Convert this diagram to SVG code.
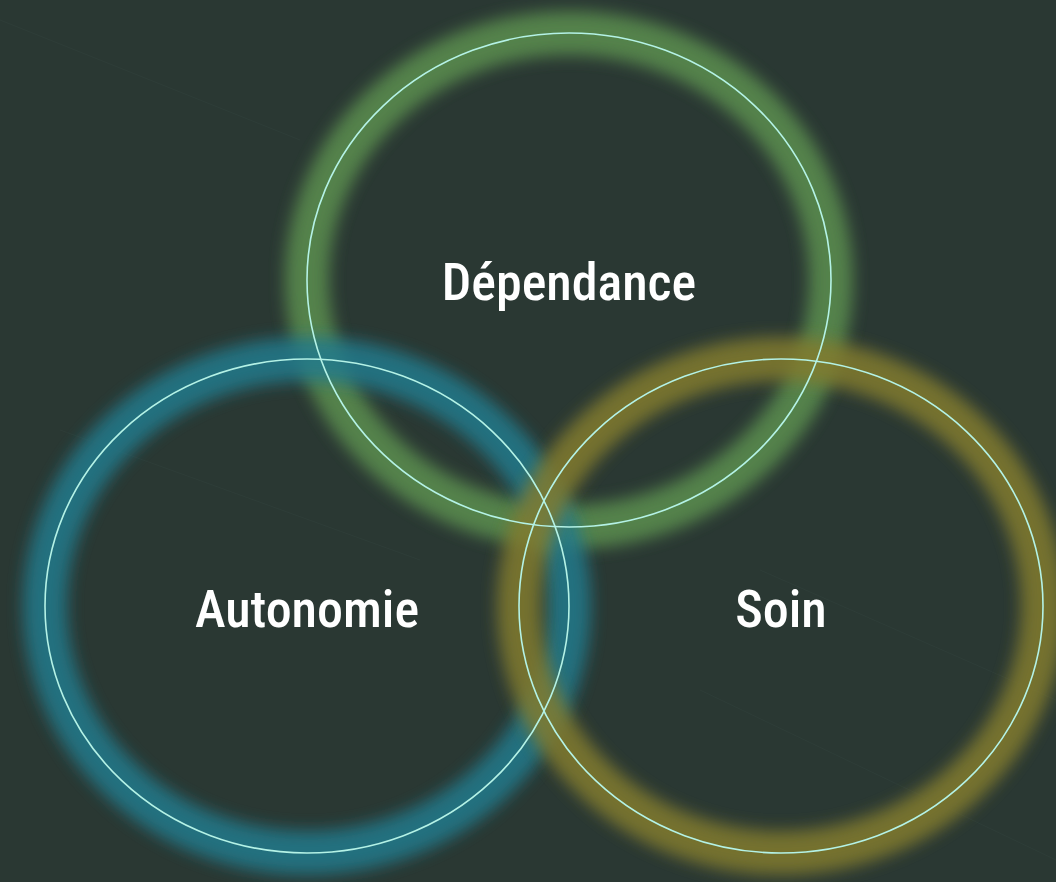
<svg xmlns="http://www.w3.org/2000/svg" width="1056" height="882" viewBox="0 0 1056 882">
<defs>
<filter id="glow" x="-20%" y="-20%" width="140%" height="140%"><feGaussianBlur stdDeviation="8"/></filter>
<style>
.band{fill:none;stroke-width:44;filter:url(#glow);opacity:0.85}
.ring{fill:none;stroke:#b4f2e6;stroke-width:1.6}
.label{font-family:"Liberation Sans Narrow","Roboto Condensed","Liberation Sans",sans-serif;font-size:52px;font-weight:500;fill:#ffffff;text-anchor:middle}
.streak{stroke:#32423d;stroke-width:1;opacity:0.5}
</style>
</defs>
<rect width="1056" height="882" fill="#2a3833"/>
<g id="background-streaks">
<line class="streak" x1="0" y1="20" x2="300" y2="140"/>
<line class="streak" x1="60" y1="430" x2="420" y2="560"/>
<line class="streak" x1="700" y1="690" x2="1056" y2="860"/>
<line class="streak" x1="760" y1="570" x2="1056" y2="700"/>
</g>
<g id="glows">
<ellipse class="band" cx="569" cy="280" rx="262" ry="247" stroke="#5c8f4f"/>
<ellipse class="band" cx="307" cy="606" rx="262" ry="247" stroke="#247a8c"/>
<ellipse class="band" cx="781" cy="606" rx="262" ry="247" stroke="#827c2f"/>
</g>
<g id="node-dependance">
<ellipse class="ring" cx="569" cy="280" rx="262" ry="247"/>
<text class="label" x="569" y="300">Dépendance</text>
</g>
<g id="node-autonomie">
<ellipse class="ring" cx="307" cy="606" rx="262" ry="247"/>
<text class="label" x="307" y="627">Autonomie</text>
</g>
<g id="node-soin">
<ellipse class="ring" cx="781" cy="606" rx="262" ry="247"/>
<text class="label" x="781" y="627">Soin</text>
</g>
<g id="connectors"/>
</svg>
